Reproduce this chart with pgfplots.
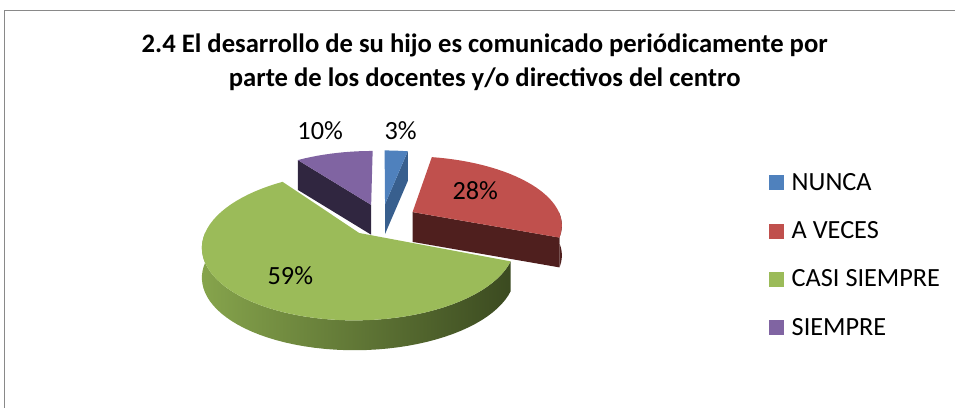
\documentclass[border=0pt]{standalone}
\usepackage{pgfplots}
\pgfplotsset{compat=1.18}
\usepackage{pgfplotstable}
\usepackage{fontspec}
\setmainfont{Carlito}

\definecolor{cblue}{HTML}{4F81BD}\definecolor{cblueS}{HTML}{385F8E}
\definecolor{cred}{HTML}{C0504D}\definecolor{credS}{HTML}{4F1F1E}
\definecolor{cgreen}{HTML}{9BBB59}\definecolor{cgreenL}{HTML}{86A44C}\definecolor{cgreenD}{HTML}{3B4A20}
\definecolor{cpurple}{HTML}{8064A2}\definecolor{cpurpleS}{HTML}{302640}
\definecolor{frame}{HTML}{898989}

\pgfplotstableread{
label value
NUNCA 3
AVECES 28
CASISIEMPRE 59
SIEMPRE 10
}\piedata

\begin{document}
\begin{tikzpicture}[
  declare function={
    QX(\m,\t,\r)=384+150*(\r*cos(\t)+0.24*cos(\m))/(1+0.169*(\r*sin(\t)+0.24*sin(\m)));
    QY(\m,\t,\r,\h)=184+68*(\r*sin(\t)+0.24*sin(\m))/(1+0.169*(\r*sin(\t)+0.24*sin(\m)))-30*\h;
  }]
\pgfplotstablegetelem{0}{value}\of\piedata\let\vA\pgfplotsretval
\pgfplotstablegetelem{1}{value}\of\piedata\let\vB\pgfplotsretval
\pgfplotstablegetelem{2}{value}\of\piedata\let\vC\pgfplotsretval
\pgfplotstablegetelem{3}{value}\of\piedata\let\vD\pgfplotsretval
\pgfmathsetmacro\tA{90}
\pgfmathsetmacro\tB{\tA-3.6*\vA}
\pgfmathsetmacro\tC{\tB-3.6*\vB}
\pgfmathsetmacro\tD{\tC-3.6*\vC}
\pgfmathsetmacro\tE{\tD-3.6*\vD}
\pgfmathsetmacro\mA{(\tA+\tB)/2}
\pgfmathsetmacro\mB{(\tB+\tC)/2}
\pgfmathsetmacro\mC{(\tC+\tD)/2}
\pgfmathsetmacro\mD{(\tD+\tE)/2}
\begin{axis}[
  x=0.75pt, y=0.75pt,
  xmin=0, xmax=955, ymin=0, ymax=405,
  hide axis, clip=false,
  legend image code/.code={\fill[#1, draw=none] (0pt,0pt) rectangle (11.25pt,11.25pt);},
  legend style={draw=none, fill=none, at={(axis cs:773,231)}, anchor=north west,
    inner xsep=0pt, inner ysep=0pt, row sep=23.75pt, column sep=6pt,
    font=\fontsize{19.8}{23}\selectfont,
    nodes={inner sep=0pt, text height=12.75pt, text depth=0pt, anchor=base west}},
  legend cell align=left,
]
\path (axis cs:0,0) rectangle (axis cs:955,405);
\draw[frame, line width=0.75pt] (axis cs:5,-5) -- (axis cs:5,394.5) -- (axis cs:960,394.5);

% NUNCA (blue)
\fill[cblueS] ({QX(\mA,\tB,0)},{QY(\mA,\tB,0,0)}) -- ({QX(\mA,\tB,1)},{QY(\mA,\tB,1,0)})
  -- ({QX(\mA,\tB,1)},{QY(\mA,\tB,1,1)}) -- ({QX(\mA,\tB,0)},{QY(\mA,\tB,0,1)}) -- cycle;
\fill[cblue] ({QX(\mA,0,0)},{QY(\mA,0,0,0)}) -- plot[variable=\t,domain=\tA:\tB,samples=8] ({QX(\mA,\t,1)},{QY(\mA,\t,1,0)}) -- cycle;

% SIEMPRE (purple)
\fill[cpurpleS] ({QX(\mD,\tD,0)},{QY(\mD,\tD,0,0)}) -- ({QX(\mD,\tD,1)},{QY(\mD,\tD,1,0)})
  -- ({QX(\mD,\tD,1)},{QY(\mD,\tD,1,1)}) -- ({QX(\mD,\tD,0)},{QY(\mD,\tD,0,1)}) -- cycle;
\fill[cpurple] ({QX(\mD,0,0)},{QY(\mD,0,0,0)}) -- plot[variable=\t,domain=\tD:\tE,samples=12] ({QX(\mD,\t,1)},{QY(\mD,\t,1,0)}) -- cycle;

% A VECES (red)
\fill[credS] ({QX(\mB,\tC,0)},{QY(\mB,\tC,0,0)}) -- ({QX(\mB,\tC,1)},{QY(\mB,\tC,1,0)})
  -- ({QX(\mB,\tC,1)},{QY(\mB,\tC,1,1)}) -- ({QX(\mB,\tC,0)},{QY(\mB,\tC,0,1)}) -- cycle;
\fill[credS] plot[variable=\t,domain=0:\tC,samples=12] ({QX(\mB,\t,1)},{QY(\mB,\t,1,0)})
  -- plot[variable=\t,domain=\tC:0,samples=12] ({QX(\mB,\t,1)},{QY(\mB,\t,1,1)}) -- cycle;
\fill[cred] ({QX(\mB,0,0)},{QY(\mB,0,0,0)}) -- plot[variable=\t,domain=\tB:\tC,samples=30] ({QX(\mB,\t,1)},{QY(\mB,\t,1,0)}) -- cycle;

% CASI SIEMPRE (green)
\shade[left color=cgreenL, right color=cgreenD] plot[variable=\t,domain=\tC:-180,samples=50] ({QX(\mC,\t,1)},{QY(\mC,\t,1,0)})
  -- plot[variable=\t,domain=-180:\tC,samples=50] ({QX(\mC,\t,1)},{QY(\mC,\t,1,1)}) -- cycle;
\fill[cgreen] ({QX(\mC,0,0)},{QY(\mC,0,0,0)}) -- plot[variable=\t,domain=\tC:\tD,samples=60] ({QX(\mC,\t,1)},{QY(\mC,\t,1,0)}) -- cycle;

% data labels
\begin{scope}[font=\fontsize{19.8}{23}\selectfont]
\node at (axis cs:322,274) {\vD\%};
\node at (axis cs:403,274) {\vA\%};
\node at (axis cs:478,213) {\vB\%};
\node at (axis cs:292,128) {\vC\%};
\end{scope}

% title
\node[font=\fontsize{20.1}{24}\selectfont\bfseries, anchor=base] at (axis cs:487.5,352) {2.4 El desarrollo de su hijo es comunicado periódicamente por};
\node[font=\fontsize{20.1}{24}\selectfont\bfseries, anchor=base] at (axis cs:487.5,318) {parte de los docentes y/o directivos del centro};

\addlegendimage{fill=cblue}
\addlegendimage{fill=cred}
\addlegendimage{fill=cgreen}
\addlegendimage{fill=cpurple}
\legend{NUNCA, A VECES, CASI SIEMPRE, SIEMPRE}
\end{axis}
\end{tikzpicture}
\end{document}
